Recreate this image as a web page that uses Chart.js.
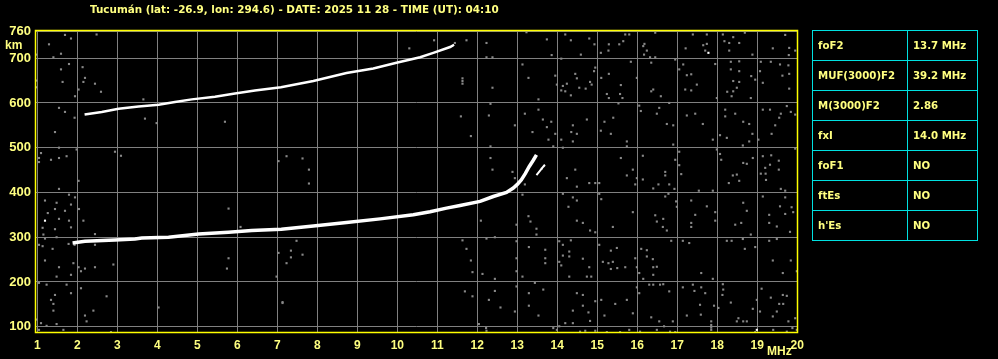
<!DOCTYPE html>
<html><head><meta charset="utf-8">
<script src="https://cdn.jsdelivr.net/npm/chart.js@4/dist/chart.umd.min.js"></script>
<style>
html,body{margin:0;padding:0;background:#000;}
body{width:998px;height:359px;overflow:hidden;position:relative;font-family:"Liberation Sans",Arial,sans-serif;}
#c{position:absolute;left:0;top:0;}
#title{position:absolute;left:90px;top:2px;color:#ffff80;font-weight:bold;font-family:"DejaVu Sans",sans-serif;font-size:10.4px;white-space:nowrap;line-height:14px;}
#km{position:absolute;left:5px;top:38px;color:#ffff80;font-weight:bold;font-size:12px;line-height:14px;}
#mhz{position:absolute;left:767px;top:344px;color:#ffff80;font-weight:bold;font-size:12px;line-height:14px;}
#tbl{position:absolute;left:812px;top:30px;border-collapse:collapse;table-layout:fixed;}
#tbl td{border:1px solid #00e0e0;color:#ffff80;font-weight:bold;font-family:"DejaVu Sans",sans-serif;font-size:10.2px;padding:0 0 0 5px;height:29px;white-space:nowrap;}
</style>
</head><body>
<canvas id="c" width="998" height="359"></canvas>
<div id="title"></div>
<div id="km">km</div>
<div id="mhz">MHz</div>
<table id="tbl"></table>
<script>
// ---- text ----
const titleText = "Tucumán (lat: -26.9, lon: 294.6) - DATE: 2025 11 28 - TIME (UT): 04:10";
const paramNames  = ["foF2", "MUF(3000)F2", "M(3000)F2", "fxI", "foF1", "ftEs", "h'Es"];
const paramValues = ["13.7 MHz", "39.2 MHz", "2.86", "14.0 MHz", "NO", "NO", "NO"];

// ---- axes ----
const freqTicks = [1,2,3,4,5,6,7,8,9,10,11,12,13,14,15,16,17,18,19,20];
const heightTicks = [100,200,300,400,500,600,700,760];

// ---- echo traces (MHz, km) ----
const f2Trace = [[1.88,287],[2.19,291],[2.94,294],[3.44,296],[3.61,298],[4.28,300],[5.03,307],[5.78,311],[6.36,315],[7.1,318],[7.9,325],[8.73,333],[9.57,341],[10.4,350],[10.82,357],[11.23,365],[11.57,371],[12.07,380],[12.4,391],[12.73,400],[12.9,410],[13.0,418],[13.1,428],[13.2,442],[13.3,458],[13.4,472],[13.48,484]];
const xBranch = [[13.48,439],[13.58,450],[13.69,462]];
const f2Multi = [[2.18,574],[2.61,580],[3.03,587],[3.53,592],[4.03,596],[4.44,602],[4.86,608],[5.44,614],[5.94,621],[6.44,628],[7.09,635],[7.9,649],[8.73,667],[9.4,677],[9.98,690],[10.57,702],[10.9,712],[11.32,725],[11.42,730]];

// ---- isolated returns (MHz, km) ----
const whiteDots = [[17.78,712],[18.99,93],[1.19,337]];
const noise = [
[13.74,742],[14.2,753],[14.34,740],[14.8,744],[14.93,731],[14.59,708],[13.86,707],[15.09,712],[15.29,731],[15.28,717],[15.55,731],[15.65,738],[15.7,753],[15.8,753],[16.18,732],[16.15,727],[16.24,717],[16.17,708],[16.32,702],[16.45,757],[16.45,702],[17.21,722],[17.39,753],[17.65,729],[17.74,753],[17.74,732],[17.7,717],[18.14,753],[18.18,738],[18.3,734],[18.4,747],[18.55,734],[18.69,757],[18.3,717],[18.88,708],[19.39,722],[19.7,752],[19.8,723],[19.95,717],[19.79,707],
[14.1,699],[14.45,665],[14.49,655],[14.95,679],[14.92,671],[14.82,647],[14.86,641],[14.71,632],[14.55,634],[14.24,643],[14.14,638],[14.1,628],[14.2,626],[14.34,617],[13.95,661],[13.99,641],[15.1,656],[15.29,665],[15.24,620],[15.29,611],[15.59,640],[15.57,620],[15.63,611],[15.84,692],[15.99,656],[16.35,690],[16.35,626],[16.4,630],[16.59,615],[16.8,600],[16.95,697],[17.05,675],[17.15,686],[17.24,662],[17.35,664],[17.49,641],[17.35,628],[17.2,630],[17.95,687],[17.99,611],[18.34,692],[18.55,693],[18.34,675],[18.55,671],[18.4,649],[18.55,647],[18.49,634],[18.4,626],[18.25,625],[18.36,615],[18.84,611],[18.85,660],[18.95,652],[19.07,671],[19.14,645],[19.09,692],[19.34,692],[19.57,686],[19.78,684],[19.63,661],[19.8,665],[19.8,632],
[13.64,563],[13.74,546],[13.85,558],[13.95,531],[13.78,518],[14.1,518],[13.9,503],[14.39,550],[14.35,535],[14.49,531],[14.39,514],[14.74,563],[15.09,538],[15.18,558],[15.4,567],[15.34,531],[15.53,599],[15.74,514],[15.74,503],[16.05,594],[16.09,582],[16.49,576],[16.55,589],[16.74,553],[16.9,550],[16.9,507],[17.24,572],[17.45,576],[17.64,553],[17.89,518],[18.2,585],[18.2,570],[18.45,576],[18.65,558],[18.8,553],[18.07,528],[18.24,522],[18.64,505],[18.8,514],[18.88,531],[19.03,518],[19.14,585],[19.32,585],[19.59,576],[19.74,593],[19.84,580],[19.45,550],[19.36,531],[19.55,567],[19.95,574],
[13.67,459],[13.61,453],[14.14,500],[14.45,451],[14.24,432],[14.49,413],[14.8,421],[14.95,421],[15.05,421],[15.59,477],[15.74,438],[15.89,451],[15.99,432],[15.95,418],[16.14,429],[16.14,482],[16.4,409],[16.53,418],[16.7,446],[16.7,438],[16.8,418],[16.93,408],[16.95,473],[17.05,491],[17.1,441],[17.05,461],[17.54,404],[17.89,404],[17.99,496],[18.07,486],[18.1,473],[18.29,421],[18.39,438],[18.49,440],[18.55,426],[18.65,466],[18.74,464],[18.89,477],[19.14,481],[19.35,483],[19.54,471],[19.54,451],[19.32,462],[19.2,455],[19.09,442],[19.21,442],[19.22,428],[19.59,408],[19.7,404],[19.95,498],
[14.14,397],[14.39,389],[14.49,382],[14.28,368],[14.49,337],[14.64,332],[14.82,315],[14.95,311],[15.05,397],[15.1,385],[15.39,323],[15.89,356],[16.45,349],[16.49,335],[16.65,341],[16.64,323],[16.74,315],[16.7,391],[16.78,397],[16.97,380],[16.99,368],[17.35,382],[17.45,350],[17.35,332],[17.35,323],[17.95,356],[17.95,337],[17.74,369],[18.45,328],[18.6,332],[18.65,377],[18.74,359],[18.84,306],[19.14,391],[19.3,350],[19.3,332],[19.49,324],[19.57,369],[19.7,389],[19.7,352],[19.86,367],[19.9,356],[19.82,312],
[13.7,272],[13.7,253],[13.7,242],[14.05,291],[14.14,283],[14.14,259],[14.05,245],[14.1,237],[14.3,268],[14.3,257],[14.34,293],[14.64,252],[14.8,233],[14.3,212],[14.74,212],[14.85,212],[15.05,283],[15.14,245],[15.34,270],[15.28,242],[15.39,245],[15.49,276],[15.5,231],[15.34,229],[15.7,233],[15.95,253],[15.99,233],[16.05,220],[16.1,274],[16.24,271],[16.24,257],[16.39,251],[16.4,233],[16.49,234],[16.15,207],[16.4,216],[16.85,292],[17.14,292],[17.3,287],[17.6,220],[17.89,207],[18.24,292],[18.36,292],[18.64,296],[18.69,274],[18.95,278],[19.3,292],[19.49,296],[19.39,248],[19.64,220],[19.84,248],[19.99,224],
[13.65,183],[14.49,175],[14.64,171],[14.95,157],[14.64,147],[14.39,136],[14.78,132],[14.82,113],[14.39,108],[14.2,108],[14.05,101],[13.9,97],[15.1,160],[15.18,125],[15.45,151],[15.74,160],[15.89,130],[15.99,188],[16.05,175],[16.3,194],[16.4,194],[16.57,194],[16.65,195],[16.8,179],[16.35,121],[16.55,112],[16.67,101],[16.89,112],[17.14,188],[17.24,125],[17.39,194],[17.43,180],[17.6,188],[17.7,175],[17.57,149],[17.59,127],[17.85,112],[17.92,147],[18.03,142],[18.14,195],[18.15,183],[18.13,171],[18.34,154],[18.53,119],[18.49,112],[18.65,112],[18.74,112],[18.99,160],[19.07,134],[18.89,140],[19.11,185],[19.34,165],[19.39,123],[19.49,134],[19.55,151],[19.64,171],[19.74,169],[19.65,151],[19.78,112],[19.95,119],[19.88,97],
[13.99,93],[14.57,89],[14.7,91],[14.95,91],[15.24,88],[15.57,88],[15.8,93],[16.07,89],[16.49,93],[16.82,89],[16.95,88],[17.85,104],[17.85,98],[17.85,93],[18.95,88],[19.4,93],[19.74,89],[19.99,93],
[1.69,752],[1.84,744],[2.48,753],[1.29,731],[1.59,710],[1.4,702],[0.97,708],[1.79,687],[2.13,680],[1.59,675],[2.19,656],[2.15,647],[1.63,647],[2.44,643],[2.03,630],[2.59,625],[1.94,615],[0.98,650],[0.97,635],[3.65,608],[1.54,589],[1.69,580],[1.93,567],[3.69,565],[3.98,555],[5.69,558],[1.44,535],[1.54,500],[1.98,496],[1.09,488],[1.04,477],[1.04,468],[1.34,473],[1.54,477],[1.73,481],[2.94,491],[3.09,482],[2.03,426],[1.54,408],[1.79,395],[1.94,389],[1.19,382],[1.48,377],[1.84,373],[1.44,363],[1.69,359],[2.04,363],[1.26,354],[1.54,341],[1.79,337],[2.15,337],[1.84,322],[1.13,321],[1.44,318],[2.44,307],[1.15,306],[1.48,300],[1.19,297],[1.04,283],[1.13,280],[1.78,285],[1.93,283],[1.38,274],[2.44,283],[5.78,364],[6.08,323],[5.78,253],[5.74,230],[7.03,265],[7.03,470],[6.98,212],[1.19,248],[1.54,233],[1.9,242],[2.03,233],[2.19,230],[2.44,233],[2.9,239],[1.84,216],[2.09,224],[1.48,212],[1.04,198],[1.23,194],[1.73,194],[2.09,186],[1.84,175],[1.44,171],[2.73,168],[1.34,160],[1.4,151],[1.4,136],[2.19,125],[2.4,136],[2.23,112],[4.03,143],[0.98,116],[1.09,108],[1.23,102],[1.48,106],[1.04,93],[1.65,93],[2.84,88],[7.13,155],
[10.92,740],[10.3,722],[11.44,734],[11.73,740],[11.63,655],[11.63,649],[11.63,643],[12.23,734],[12.23,702],[12.38,702],[13.13,686],[13.28,656],[13.23,758],[12.38,634],[12.33,598],[11.59,570],[11.84,526],[12.29,572],[12.94,550],[13.19,576],[13.38,535],[13.53,608],[13.53,585],[12.33,503],[12.33,477],[12.38,451],[12.88,446],[12.94,432],[13.19,418],[13.13,395],[7.23,481],[7.63,476],[7.79,451],[7.79,420],[7.48,292],[7.34,270],[7.34,255],[7.63,261],[7.23,242],[7.13,153],[11.63,293],[11.73,274],[11.84,248],[11.88,222],[12.13,218],[12.44,207],[11.69,179],[11.88,168],[12.29,160],[12.44,180],[12.58,143],[12.94,134],[13.29,147],[13.29,175],[13.13,212],[13.29,278],[13.44,198],[12.98,328],[12.98,291],[12.98,253],[12.98,224],[12.98,190],[12.09,337],[12.23,297],[12.44,300],[13.28,347],[13.33,335],[13.48,319],[13.48,306],[13.53,125],[12.04,106],[12.23,91],[12.22,97]
];

// ---- page text ----
document.getElementById('title').textContent = titleText;
const tbl = document.getElementById('tbl');
paramNames.forEach((n,i)=>{
  const tr = document.createElement('tr');
  const a = document.createElement('td'); a.style.width='89px'; a.textContent = n;
  const b = document.createElement('td'); b.style.width='64px'; b.textContent = paramValues[i];
  tr.appendChild(a); tr.appendChild(b); tbl.appendChild(tr);
});

const toXY = arr => arr.map(p=>({x:p[0], y:p[1]}));
const LBL = '#ffff80';

const borderPlugin = {
  id:'frame',
  afterDraw(chart){
    const a = chart.chartArea, ctx = chart.ctx;
    ctx.save();
    ctx.strokeStyle = '#ffff00';
    ctx.lineWidth = 1.5;
    ctx.strokeRect(a.left+0.5, a.top+0.5, a.right-a.left-1, a.bottom-a.top-1);
    ctx.restore();
  }
};

new Chart(document.getElementById('c'), {
  type:'scatter',
  data:{datasets:[
    {label:'noise', data:toXY(noise), pointStyle:'rect', pointRadius:1.5, pointBorderWidth:0, backgroundColor:'#888888', borderColor:'#888888', order:5},
    {label:'whiteDots', data:toXY(whiteDots), pointStyle:'rect', pointRadius:1.5, pointBorderWidth:0, backgroundColor:'#ffffff', order:4},
    {label:'f2Multi', data:toXY(f2Multi), showLine:true, borderColor:'#ffffff', borderWidth:2.5, pointRadius:0, order:1},
    {label:'f2Trace', data:toXY(f2Trace), showLine:true, borderColor:'#ffffff', borderWidth:3.5, pointRadius:0, order:1},
    {label:'xBranch', data:toXY(xBranch), showLine:true, borderColor:'#ffffff', borderWidth:2, pointRadius:0, order:1}
  ]},
  options:{
    responsive:false, animation:false, events:[],
    layout:{padding:{left:0,right:200,top:30,bottom:0}},
    plugins:{legend:{display:false}, tooltip:{enabled:false}, title:{display:false}},
    scales:{
      x:{type:'linear', min:0.94, max:20.02,
        afterBuildTicks(ax){ ax.ticks = freqTicks.map(v=>({value:v})); },
        afterFit(ax){ ax.height = 26; },
        grid:{color:'#808080', lineWidth:1, drawTicks:false},
        border:{display:false},
        ticks:{color:LBL, font:{family:'"Liberation Sans", Arial, sans-serif', size:12, weight:'bold'}, padding:5, maxRotation:0, autoSkip:false}
      },
      y:{type:'linear', min:86, max:763,
        afterBuildTicks(ax){ ax.ticks = heightTicks.map(v=>({value:v})); },
        afterFit(ax){ ax.width = 35; },
        grid:{color:'#808080', lineWidth:1, drawTicks:false},
        border:{display:false},
        ticks:{color:LBL, font:{family:'"Liberation Sans", Arial, sans-serif', size:13, weight:'bold'}, padding:4, autoSkip:false}
      }
    }
  },
  plugins:[borderPlugin]
});
</script>
</body></html>
